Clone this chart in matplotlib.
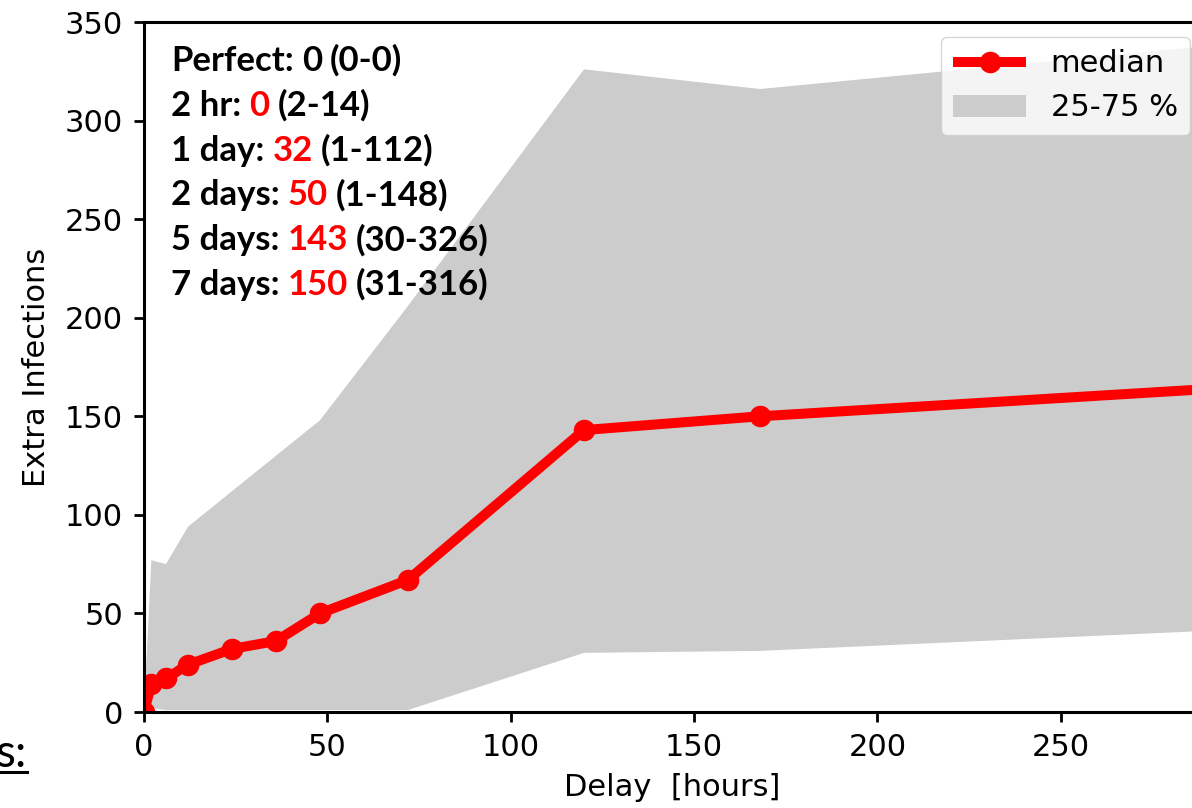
import numpy as np
import matplotlib
matplotlib.use("Agg")
import matplotlib.pyplot as plt
from matplotlib.lines import Line2D

# delays (hours) and extra infections
delay_hours = [0, 2, 6, 12, 24, 36, 48, 72, 120, 168, 336]
median = [0, 14, 17, 24, 32, 36, 50, 67, 143, 150, 169]
q25 = [0, 2, 1, 1, 1, 1, 1, 1, 30, 31, 45]
q75 = [0, 77, 75, 94, 112, 130, 148, 206, 326, 316, 346]

# summary text block
summary_labels = ["Perfect:", "2 hr:", "1 day:", "2 days:", "5 days:", "7 days:"]
summary_medians = ["0", "0", "32", "50", "143", "150"]
summary_colors = ["black", "red", "red", "red", "red", "red"]
summary_ranges = ["(0-0)", "(2-14)", "(1-112)", "(1-148)", "(30-326)", "(31-316)"]

xticks = [0, 50, 100, 150, 200, 250]
yticks = [0, 50, 100, 150, 200, 250, 300, 350]

W, H = 1192, 808
fig = plt.figure(figsize=(W / 100, H / 100), dpi=100)
# axes runs off the right edge of the picture, like the cropped slide
ax = fig.add_axes([144 / W, 1 - 712 / H, (1200 - 144) / W, (712 - 22) / H])

ax.fill_between(delay_hours, q25, q75, color='0.8', linewidth=0, label='25-75 %')
ax.plot(delay_hours, median, color='red', lw=7.2, marker='o', markersize=14.5,
        label='median', solid_capstyle='butt')

ax.set_xlim(0, 288)
ax.set_ylim(0, 350)
ax.set_xticks(xticks)
ax.set_yticks(yticks)
ax.tick_params(labelsize=22, length=7, width=2, pad=8)
for s in ax.spines.values():
  s.set_linewidth(2.2)
ax.set_xlabel('Delay  [hours]', fontsize=22, labelpad=8)
ax.set_ylabel('Extra Infections', fontsize=22, labelpad=10)

handles, labels = ax.get_legend_handles_labels()
leg = ax.legend(handles[::-1], labels[::-1], loc='upper right', fontsize=22,
                bbox_to_anchor=(1190 / W, 1 - 37 / H), bbox_transform=fig.transFigure,
                borderaxespad=0, handlelength=2.4)

# summary text with red medians
renderer = fig.canvas.get_renderer()
font = dict(family=['Lato', 'DejaVu Sans'], fontweight='bold', fontsize=25)
x0 = 171 / W
gap = 8 / W
for i in range(len(summary_labels)):
  y = 1 - (71 + 44.8 * i) / H
  x = x0
  parts = [(summary_labels[i], 'black'), (summary_medians[i], summary_colors[i]),
           (summary_ranges[i], 'black')]
  for txt, col in parts:
    t = fig.text(x, y, txt, color=col, va='baseline', ha='left', **font)
    bb = t.get_window_extent(renderer)
    x = bb.x1 / W + gap

# fragment of the slide title at the bottom left
fig.text(27 / W, 1 - 767 / H, 's:', ha='right', va='baseline', fontsize=33,
         family=['Lato', 'DejaVu Sans'])
fig.add_artist(Line2D([0, 27 / W], [1 - 772 / H, 1 - 772 / H], transform=fig.transFigure,
                      color='black', lw=2.2))

fig.savefig('out.png', dpi=100)
